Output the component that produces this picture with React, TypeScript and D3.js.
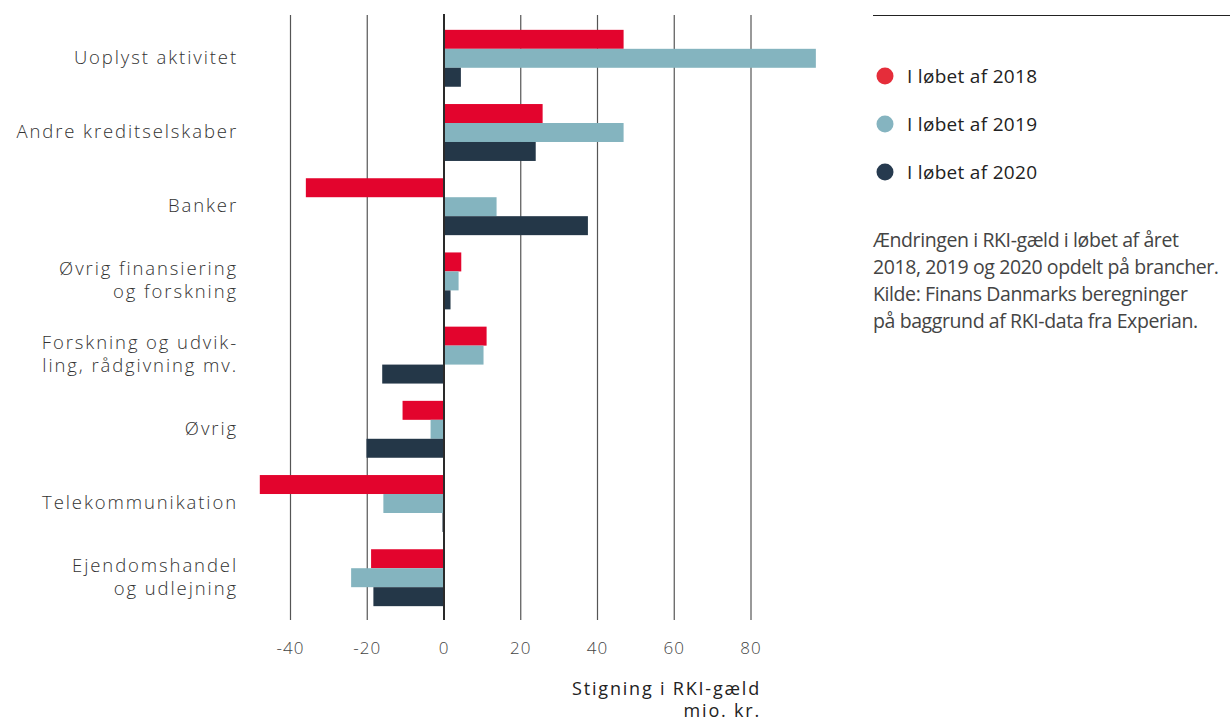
import React from "react";
import * as d3 from "d3";

const categories = [
  ["Uoplyst aktivitet"],
  ["Andre kreditselskaber"],
  ["Banker"],
  ["Øvrig finansiering", "og forskning"],
  ["Forskning og udvik-", "ling, rådgivning mv."],
  ["Øvrig"],
  ["Telekommunikation"],
  ["Ejendomshandel", "og udlejning"],
];
const series2018 = [46.8, 25.7, -36.0, 4.5, 11.1, -10.8, -48.0, -19.0];
const series2019 = [96.9, 46.8, 13.7, 3.8, 10.3, -3.5, -15.8, -24.2];
const series2020 = [4.4, 23.9, 37.5, 1.7, -16.1, -20.2, -0.4, -18.4];
const seriesNames = ["I løbet af 2018", "I løbet af 2019", "I løbet af 2020"];
const xTicks = [-40, -20, 0, 20, 40, 60, 80];
const noteLines = [
  "Ændringen i RKI-gæld i løbet af året",
  "2018, 2019 og 2020 opdelt på brancher.",
  "Kilde: Finans Danmarks beregninger",
  "på baggrund af RKI-data fra Experian.",
];
const axisTitle = ["Stigning i RKI-gæld", "mio. kr."];

const barColors = ["#e3042d", "#84b4bf", "#243748"];
const legendColors = ["#e52d3a", "#85b4c0", "#263a4f"];

export default function App() {
  const W = 1230, H = 724;
  const x = d3.scaleLinear().domain([-40, 80]).range([290.5, 751]);
  const y = d3
    .scaleBand<number>()
    .domain(d3.range(categories.length))
    .range([15, 621])
    .paddingInner(0.233)
    .paddingOuter(0.2);
  const sub = d3.scaleBand<number>().domain([0, 1, 2]).range([0, y.bandwidth()]);
  const all = [series2018, series2019, series2020];
  const font = "'Open Sans', 'Noto Sans', sans-serif";

  return (
    <svg width={W} height={H} style={{ position: "absolute", left: 0, top: 0, background: "#fff" }}>
      {xTicks.filter((t) => t !== 0).map((t) => (
        <line key={t} x1={x(t)} x2={x(t)} y1={15} y2={620} stroke="#555" strokeWidth={1.2} />
      ))}
      {all.map((s, si) =>
        s.map((v, i) => (
          <rect
            key={`${si}-${i}`}
            x={Math.min(x(0), x(v))}
            y={(y(i) as number) + (sub(si) as number)}
            width={Math.abs(x(v) - x(0))}
            height={sub.bandwidth()}
            fill={barColors[si]}
          />
        ))
      )}
      <line x1={x(0)} x2={x(0)} y1={14} y2={620} stroke="#2a2a2a" strokeWidth={2} />
      {xTicks.map((t) => (
        <text key={t} x={x(t)} y={654} textAnchor="middle" fontFamily={font} fontWeight={300} fontSize={17} fill="#444" letterSpacing={1}>
          {t}
        </text>
      ))}
      {categories.map((lines, i) => {
        const cy = (y(i) as number) + y.bandwidth() / 2 - 1;
        const lh = 23;
        const start = cy - ((lines.length - 1) * lh) / 2;
        return (
          <text key={i} textAnchor="end" fontFamily={font} fontWeight={300} fontSize={18.5} fill="#333" letterSpacing={1.9}>
            {lines.map((l, j) => (
              <tspan key={j} x={238} y={start + j * lh} dy="0.35em">
                {l}
              </tspan>
            ))}
          </text>
        );
      })}
      <text textAnchor="end" fontFamily={font} fontSize={18} fill="#222" letterSpacing={1.8}>
        <tspan x={761} y={695}>{axisTitle[0]}</tspan>
        <tspan x={761} y={717}>{axisTitle[1]}</tspan>
      </text>
      <line x1={873} x2={1230} y1={15.5} y2={15.5} stroke="#222" strokeWidth={1.2} />
      {seriesNames.map((n, i) => (
        <g key={n}>
          <circle cx={885} cy={76 + i * 48} r={8.5} fill={legendColors[i]} />
          <text x={907} y={76 + i * 48} dy="0.35em" fontFamily={font} fontSize={19} fill="#222" letterSpacing={0.3}>
            {n}
          </text>
        </g>
      ))}
      {noteLines.map((l, i) => (
        <text key={i} x={873} y={247 + i * 27} fontFamily={font} fontSize={19.5} fill="#444" letterSpacing={-0.4}>
          {l}
        </text>
      ))}
    </svg>
  );
}
